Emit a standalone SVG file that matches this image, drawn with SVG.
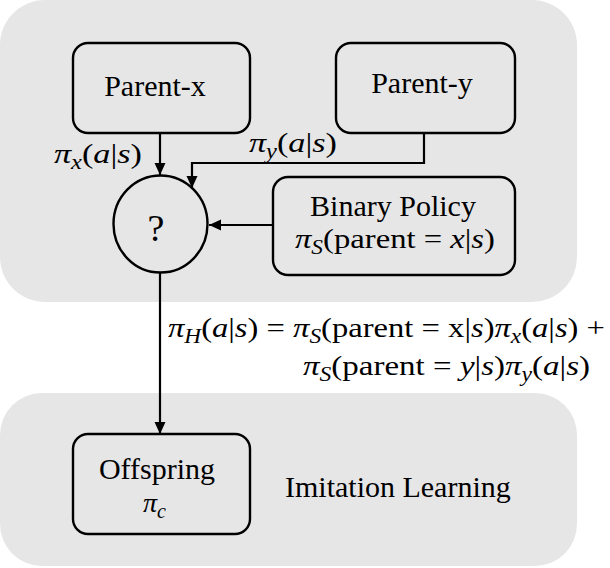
<svg xmlns="http://www.w3.org/2000/svg" width="610" height="568" viewBox="0 0 610 568" style="font-family:'Liberation Serif','DejaVu Serif','Times New Roman',serif">
<defs>
<style>
text{font-family:'Liberation Serif','DejaVu Serif','Times New Roman',serif}
.panel{fill:#e6e6e6;stroke:none}
.box{fill:#e6e6e6;stroke:#000;stroke-width:2.4}
.lbl{font-size:30px;fill:#000}
.q{font-size:38px}
.m{font-size:28px;fill:#000}
.i{font-style:italic}
.sub{font-style:italic;font-size:20px}
.conn{fill:none;stroke:#000;stroke-width:2.2}
</style>
<marker id="arr" markerUnits="userSpaceOnUse" markerWidth="13" markerHeight="12" refX="12" refY="5.5" orient="auto">
<path d="M0,0 L12,5.5 L0,11 z" fill="#000"/>
</marker>
</defs>
<rect class="panel" x="0" y="0" width="577" height="302" rx="45"/>
<rect class="panel" x="0" y="393" width="577" height="173" rx="42"/>

<g id="connectors">
<line class="conn" x1="160" y1="133" x2="160" y2="175" marker-end="url(#arr)"/>
<polyline class="conn" points="424,133 424,163 192,163 192,188" marker-end="url(#arr)"/>
<line class="conn" x1="273" y1="225" x2="209" y2="225" marker-end="url(#arr)"/>
<line class="conn" x1="160" y1="272" x2="160" y2="434" marker-end="url(#arr)"/>
<text class="m" x="54" y="163" textLength="88" lengthAdjust="spacingAndGlyphs"><tspan class="i">π</tspan><tspan class="sub" dy="6">x</tspan><tspan dy="-6">(</tspan><tspan class="i">a</tspan>|<tspan class="i">s</tspan>)</text>
<text class="m" x="249" y="152" textLength="88" lengthAdjust="spacingAndGlyphs"><tspan class="i">π</tspan><tspan class="sub" dy="6">y</tspan><tspan dy="-6">(</tspan><tspan class="i">a</tspan>|<tspan class="i">s</tspan>)</text>
<text class="m" x="168" y="337" textLength="437" lengthAdjust="spacingAndGlyphs"><tspan class="i">π</tspan><tspan class="sub" dy="6">H</tspan><tspan dy="-6">(</tspan><tspan class="i">a</tspan>|<tspan class="i">s</tspan>) = <tspan class="i">π</tspan><tspan class="sub" dy="6">S</tspan><tspan dy="-6">(parent = x|</tspan><tspan class="i">s</tspan>)<tspan class="i">π</tspan><tspan class="sub" dy="6">x</tspan><tspan dy="-6">(</tspan><tspan class="i">a</tspan>|<tspan class="i">s</tspan>) +</text>
<text class="m" x="303" y="375" textLength="287" lengthAdjust="spacingAndGlyphs"><tspan class="i">π</tspan><tspan class="sub" dy="6">S</tspan><tspan dy="-6">(parent = </tspan><tspan class="i">y</tspan>|<tspan class="i">s</tspan>)<tspan class="i">π</tspan><tspan class="sub" dy="6">y</tspan><tspan dy="-6">(</tspan><tspan class="i">a</tspan>|<tspan class="i">s</tspan>)</text>
</g>

<g id="parent-x">
<rect class="box" x="73" y="43" width="177" height="90" rx="15"/>
<text class="lbl" x="155" y="96" text-anchor="middle">Parent-x</text>
</g>
<g id="parent-y">
<rect class="box" x="336" y="43" width="179" height="90" rx="15"/>
<text class="lbl" x="422" y="93" text-anchor="middle">Parent-y</text>
</g>
<g id="mixer">
<ellipse class="box" cx="160.5" cy="224" rx="47" ry="48.5"/>
<text class="lbl q" x="156" y="241" text-anchor="middle">?</text>
</g>
<g id="binary-policy">
<rect class="box" x="273" y="177" width="242" height="98" rx="15"/>
<text class="lbl" x="393" y="216" text-anchor="middle">Binary Policy</text>
<text class="m" x="295" y="248" textLength="200" lengthAdjust="spacingAndGlyphs"><tspan class="i">π</tspan><tspan class="sub" dy="6">S</tspan><tspan dy="-6">(parent = </tspan><tspan class="i">x</tspan>|<tspan class="i">s</tspan>)</text>
</g>
<g id="offspring">
<rect class="box" x="73" y="434" width="177" height="100" rx="15"/>
<text class="lbl" x="157" y="479" text-anchor="middle">Offspring</text>
<text class="m" x="143" y="512"><tspan class="i">π</tspan><tspan class="sub" dy="6">c</tspan></text>
</g>
<g id="imitation-learning">
<text class="lbl" x="285" y="497">Imitation Learning</text>
</g>
</svg>
